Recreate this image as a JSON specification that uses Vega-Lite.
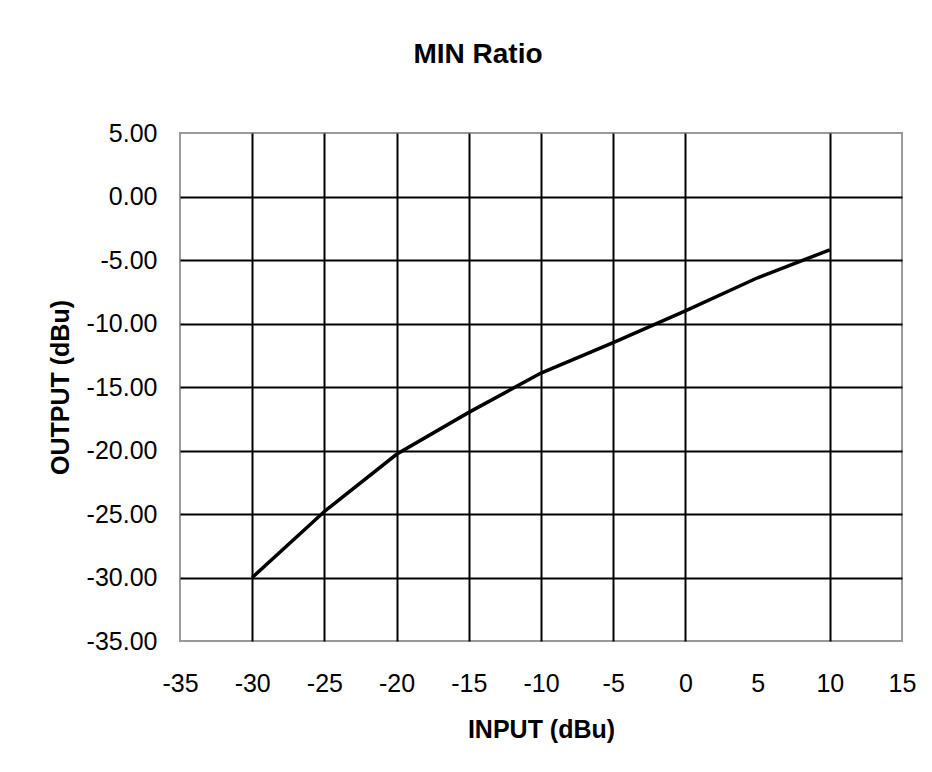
{
  "$schema": "https://vega.github.io/schema/vega-lite/v6.json",
  "autosize": "none",
  "width": 722,
  "height": 508,
  "padding": {"left": 180, "top": 133, "right": 30, "bottom": 131},
  "background": "white",
  "title": {
    "text": "MIN Ratio",
    "font": "Liberation Sans",
    "fontSize": 28,
    "fontWeight": "bold",
    "color": "black",
    "anchor": "middle",
    "dx": -63,
    "offset": 52
  },
  "data": {
    "values": [
      {"input": -30, "output": -30.0},
      {"input": -25, "output": -24.8},
      {"input": -20, "output": -20.3},
      {"input": -15, "output": -17.0},
      {"input": -10, "output": -13.9},
      {"input": -5, "output": -11.5},
      {"input": 0, "output": -9.0},
      {"input": 5, "output": -6.4},
      {"input": 10, "output": -4.2}
    ]
  },
  "mark": {"type": "line", "color": "black", "strokeWidth": 3.5},
  "encoding": {
    "x": {
      "field": "input",
      "type": "quantitative",
      "scale": {"domain": [-35, 15], "nice": false, "zero": false},
      "axis": {
        "title": "INPUT (dBu)",
        "values": [-35, -30, -25, -20, -15, -10, -5, 0, 5, 10, 15],
        "labelPadding": 30,
        "titlePadding": 21
      }
    },
    "y": {
      "field": "output",
      "type": "quantitative",
      "scale": {"domain": [-35, 5], "nice": false, "zero": false},
      "axis": {
        "title": "OUTPUT (dBu)",
        "values": [-35, -30, -25, -20, -15, -10, -5, 0, 5],
        "format": ".2f",
        "labelPadding": 23,
        "titlePadding": 13
      }
    }
  },
  "config": {
    "locale": {"number": {"decimal": ".", "thousands": ",", "grouping": [3], "currency": ["$", ""], "minus": "-"}},
    "view": {"stroke": "#999999", "strokeWidth": 2},
    "axis": {
      "domain": false,
      "ticks": false,
      "grid": true,
      "gridColor": {"condition": {"test": "datum.value == -35 || datum.value == 15 || datum.value == 5", "value": "transparent"}, "value": "black"},
      "gridWidth": 2,
      "gridOpacity": 1,
      "labelFont": "Liberation Sans",
      "labelFontSize": 25,
      "labelColor": "black",
      "labelFlush": false,
      "labelOverlap": false,
      "titleFont": "Liberation Sans",
      "titleFontSize": 25,
      "titleFontWeight": "bold",
      "titleColor": "black"
    }
  }
}
